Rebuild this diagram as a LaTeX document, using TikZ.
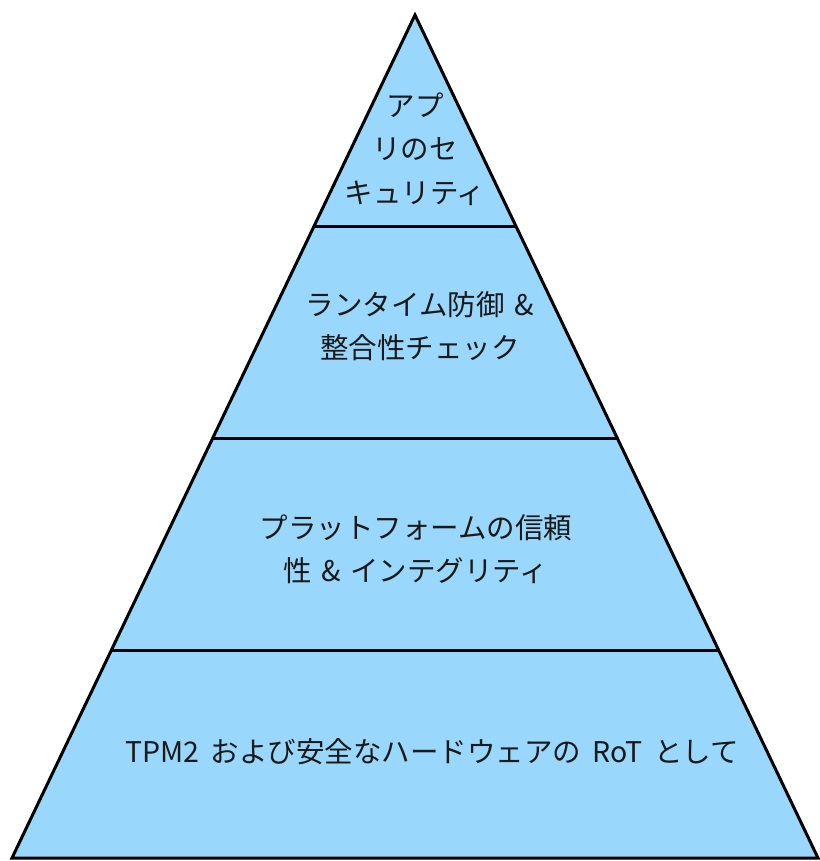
\documentclass[tikz,border=0pt]{standalone}
\usepackage{fontspec}
\newfontfamily\cjk{Noto Sans CJK JP}
\definecolor{tierfill}{RGB}{153,216,252}
\definecolor{tiertext}{RGB}{25,25,25}
\begin{document}
\begin{tikzpicture}[x=1pt,y=-1pt,
  edge/.style={draw=black,line width=3pt,line join=miter},
  label/.style={align=center,text=tiertext,font=\cjk\fontsize{28.5}{43.5}\selectfont,inner sep=0pt}]
\useasboundingbox (0,0) rectangle (819,861);
% corner coordinates
\coordinate (apex) at (415,15);
\coordinate (l1) at (314,226); \coordinate (r1) at (516,226);
\coordinate (l2) at (213,438); \coordinate (r2) at (617,438);
\coordinate (l3) at (112,650); \coordinate (r3) at (718,650);
\coordinate (l4) at (12,858);  \coordinate (r4) at (818,858);
% fill
\fill[tierfill] (apex) -- (r4) -- (l4) -- cycle;
% outline and dividers
\draw[edge] (apex) -- (r4) -- (l4) -- cycle;
\draw[edge] (l1) -- (r1);
\draw[edge] (l2) -- (r2);
\draw[edge] (l3) -- (r3);
% labels
\node[label] (t1) at (415,149) {アプ\\リのセ\\キュリティ};
\node[label] (t2) at (420,326) {ランタイム防御\hspace{4pt} \&\\整合性チェック};
\node[label] (t3) at (416,549) {プラットフォームの信頼\\性\hspace{3pt} \&\hspace{3pt} インテグリティ};
\node[label] (t4) at (432,752) {TPM2\hspace{5pt} および安全なハードウェアの\hspace{5pt} RoT\hspace{5pt} として};
\end{tikzpicture}
\end{document}
